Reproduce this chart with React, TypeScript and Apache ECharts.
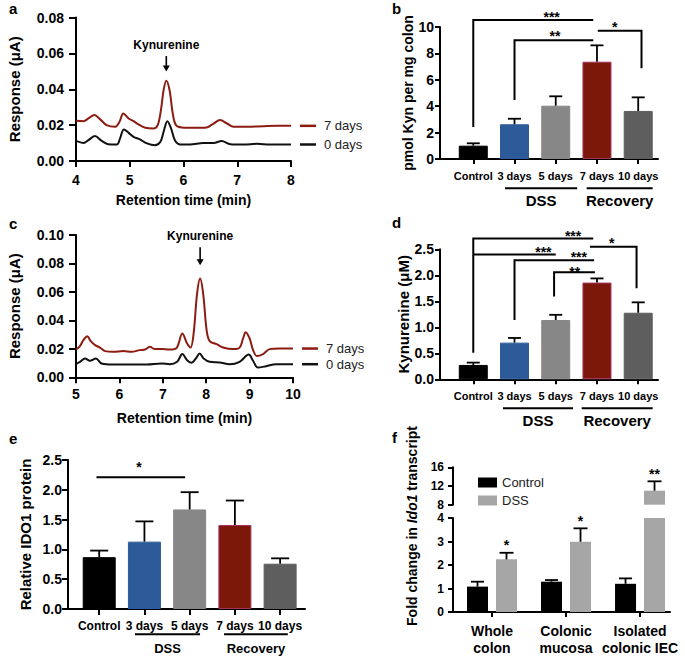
import React, { useEffect, useRef } from 'react';
import * as echarts from 'echarts';

const FONT = "'Liberation Sans', Arial, Helvetica, sans-serif";

// ---------- Panel a: chromatogram (retention time min, response uA) ----------
const chromA7Days: number[][] = [
  [4.0, 0.0224], [4.14, 0.0222], [4.23, 0.0237], [4.34, 0.0256], [4.45, 0.0232], [4.57, 0.02],
  [4.73, 0.0191], [4.81, 0.0219], [4.88, 0.0265], [4.98, 0.0237], [5.07, 0.0222], [5.16, 0.0204],
  [5.29, 0.0185], [5.44, 0.0181], [5.52, 0.02], [5.58, 0.0284], [5.63, 0.0396], [5.68, 0.0448],
  [5.74, 0.0396], [5.8, 0.0265], [5.86, 0.02], [5.97, 0.0187], [6.19, 0.0185], [6.43, 0.0187],
  [6.56, 0.0209], [6.68, 0.0228], [6.81, 0.0209], [6.93, 0.0191], [7.18, 0.0191], [7.49, 0.0194],
  [7.74, 0.0196], [8.0, 0.0196],
];
const chromA0Days: number[][] = [
  [4.0, 0.0112], [4.14, 0.0101], [4.23, 0.0116], [4.35, 0.0139], [4.48, 0.0112], [4.6, 0.0094],
  [4.76, 0.0092], [4.82, 0.0126], [4.89, 0.0176], [4.98, 0.0157], [5.07, 0.0135], [5.19, 0.012],
  [5.32, 0.0098], [5.47, 0.0088], [5.57, 0.0107], [5.63, 0.0163], [5.7, 0.0222], [5.77, 0.0181],
  [5.84, 0.0116], [5.94, 0.0092], [6.12, 0.0092], [6.37, 0.0101], [6.56, 0.0101], [6.71, 0.0111],
  [6.87, 0.0094], [7.12, 0.0092], [7.37, 0.0096], [7.61, 0.0092], [8.0, 0.0092],
];
// [time, arrow tip, arrow tail, label]
const kynArrowA = [5.68, 0.0499, 0.0585, 0.0645];

// ---------- Panel c: chromatogram ----------
const chromC7Days: number[][] = [
  [5.0, 0.0195], [5.09, 0.0219], [5.17, 0.0261], [5.26, 0.0289], [5.34, 0.0254], [5.44, 0.0226],
  [5.55, 0.0209], [5.67, 0.0184], [5.86, 0.0179], [6.09, 0.0184], [6.28, 0.0179], [6.47, 0.0191],
  [6.59, 0.0195], [6.7, 0.0214], [6.82, 0.0198], [6.97, 0.0198], [7.16, 0.0195], [7.32, 0.0207],
  [7.45, 0.0308], [7.56, 0.0237], [7.64, 0.0209], [7.71, 0.0308], [7.79, 0.0588], [7.86, 0.0694],
  [7.93, 0.0588], [8.01, 0.0331], [8.08, 0.0254], [8.24, 0.0233], [8.39, 0.0209], [8.62, 0.0198],
  [8.77, 0.0209], [8.85, 0.0273], [8.91, 0.0317], [9.0, 0.0273], [9.08, 0.0191], [9.17, 0.0149],
  [9.31, 0.0163], [9.46, 0.0198], [9.69, 0.0202], [10.0, 0.0202],
];
const chromC0Days: number[][] = [
  [5.0, 0.0092], [5.09, 0.0109], [5.21, 0.0132], [5.32, 0.0116], [5.46, 0.0132], [5.59, 0.0097],
  [5.86, 0.009], [6.24, 0.009], [6.63, 0.009], [6.97, 0.0097], [7.16, 0.0092], [7.33, 0.0109],
  [7.45, 0.0163], [7.56, 0.012], [7.66, 0.0102], [7.76, 0.0132], [7.85, 0.0167], [7.94, 0.0132],
  [8.08, 0.0109], [8.31, 0.0104], [8.54, 0.0092], [8.77, 0.0109], [8.98, 0.016], [9.08, 0.0116],
  [9.19, 0.0069], [9.38, 0.0078], [9.61, 0.0092], [10.0, 0.0092],
];
const kynArrowC = [7.86, 0.0788, 0.0914, 0.0995];

// ---------- Bar panels b, d, e ----------
const timeCategories = ['Control', '3 days', '5 days', '7 days', '10 days'];
const categoryColors = ['#000000', '#2d5a99', '#878787', '#7b180a', '#5e5e5e'];
const categoryBorders = ['#000000', '#2d5a99', '#878787', '#a3325c', '#5e5e5e'];
const groupNames = ['DSS', 'Recovery'];

const kynColonMean = [1.01, 2.63, 4.04, 7.37, 3.64];
const kynColonSem = [0.18, 0.42, 0.71, 1.24, 1.03];
const groupSpanB = [[0.77, 2.52], [2.75, 4.35]];
// [x1, x2, yLine, yLeftEnd, yRightEnd, labelX, labelY]  (-1 = no leg)
const bracketsB = [
  [0, 2.91, 10.53, 2.42, -1, 1.9, 10.73],
  [1, 2.91, 9.0, 4.47, -1, 1.98, 9.3],
  [3.02, 4.08, 9.72, -1, 6.87, 3.43, 9.98],
];
const bracketLabelsB = ['***', '**', '*'];

const kynSerumMean = [0.276, 0.705, 1.14, 1.86, 1.28];
const kynSerumSem = [0.045, 0.09, 0.1, 0.08, 0.2];
const groupSpanD = [[0.72, 2.42], [2.63, 4.35]];
const bracketsD = [
  [0, 2.91, 2.71, 0.51, -1, 2.42, 2.76],
  [0, 2.0, 2.4, -1, -1, 1.7, 2.44],
  [1, 2.93, 2.29, 1.14, -1, 2.56, 2.35],
  [1.96, 2.95, 2.06, 1.59, -1, 2.46, 2.07],
  [2.83, 3.96, 2.55, -1, 1.75, 3.36, 2.62],
];
const bracketLabelsD = ['***', '***', '***', '**', '*'];

const ido1Mean = [0.87, 1.13, 1.67, 1.41, 0.76];
const ido1Sem = [0.11, 0.34, 0.29, 0.41, 0.09];
const groupSpanE = [[0.79, 2.23], [2.76, 4.17]];
const bracketsE = [[-0.06, 1.9, 2.21, -1, -1, 0.88, 2.38]];
const bracketLabelsE = ['*'];

// ---------- Panel f ----------
const fGroups = ['Whole\ncolon', 'Colonic\nmucosa', 'Isolated\ncolonic IEC'];
const fControlMean = [1.08, 1.29, 1.2];
const fControlSem = [0.21, 0.07, 0.23];
const fDssMean = [2.24, 2.99, 11.0];
const fDssSem = [0.28, 0.57, 2.0];
const fDssStars = ['*', '*', '**'];

const BAR_F = 21;
const F_OFFSET = 14.5;

const bold = (size: number, extra: any = {}) => ({ color: '#000', fontSize: size, fontWeight: 'bold', fontFamily: FONT, ...extra });

function axis(o: any) {
  return {
    gridIndex: o.grid,
    type: 'value',
    show: o.show !== false,
    min: o.min,
    max: o.max,
    interval: o.interval,
    name: o.name,
    nameLocation: 'middle',
    nameGap: o.nameGap,
    nameTextStyle: bold(o.nameSize || 14),
    axisLine: { show: true, onZero: false, lineStyle: { color: '#000', width: 2 } },
    axisTick: { show: true, length: o.tickLen || 6, lineStyle: { color: '#000', width: 2 }, ...(o.custom ? { customValues: o.custom } : {}) },
    axisLabel: {
      ...bold(o.labelSize || 14, o.lineHeight ? { lineHeight: o.lineHeight } : {}),
      margin: o.margin,
      formatter: o.formatter,
      ...(o.custom ? { customValues: o.custom } : {}),
    },
    splitLine: { show: false },
  };
}

const lineSeries = (name: string, data: number[][], color: string, idx: number) => ({
  type: 'line', name, xAxisIndex: idx, yAxisIndex: idx, data, showSymbol: false, smooth: 0.35,
  lineStyle: { color, width: 2 }, itemStyle: { color }, silent: true,
  endLabel: {
    show: true, distance: 9, formatter: `{d|}{t|${name}}`,
    rich: {
      d: { width: 16, height: 2.5, backgroundColor: color },
      t: { fontSize: 13, color: '#222', padding: [0, 0, 0, 8], fontFamily: FONT },
    },
  },
});

const arrowSeries = (arrow: number[], idx: number) => ({
  type: 'custom', xAxisIndex: idx, yAxisIndex: idx, silent: true,
  data: [arrow],
  renderItem: (_p: any, api: any) => {
    const tip = api.coord([api.value(0), api.value(1)]);
    const tail = api.coord([api.value(0), api.value(2)]);
    const lab = api.coord([api.value(0), api.value(3)]);
    return {
      type: 'group', children: [
        { type: 'line', shape: { x1: tail[0], y1: tail[1], x2: tip[0], y2: tip[1] - 5 }, style: { stroke: '#000', lineWidth: 1.6 } },
        { type: 'polygon', shape: { points: [[tip[0] - 3.5, tip[1] - 6], [tip[0] + 3.5, tip[1] - 6], [tip[0], tip[1]]] }, style: { fill: '#000' } },
        { type: 'text', x: lab[0], y: lab[1], style: { text: 'Kynurenine', align: 'center', verticalAlign: 'middle', ...bold(12), fill: '#000' } },
      ],
    };
  },
});

const barSeries = (idx: number, mean: number[], width: number) => ({
  type: 'bar', name: 'panel' + idx, xAxisIndex: idx, yAxisIndex: idx, barWidth: width, silent: true,
  data: mean.map((v, i) => ({ value: [i, v], itemStyle: { color: categoryColors[i], borderColor: categoryBorders[i], borderWidth: 1 } })),
});

const errSeries = (idx: number, data: number[][], capW: number, dx: number, stars?: string[]) => ({
  type: 'custom', xAxisIndex: idx, yAxisIndex: idx, silent: true, z: 5,
  data,
  renderItem: (_p: any, api: any) => {
    const p0 = api.coord([api.value(0), api.value(1)]);
    const p1 = api.coord([api.value(0), api.value(2)]);
    const cx = p0[0] + dx;
    const children: any[] = [
      { type: 'line', shape: { x1: cx, y1: p0[1], x2: cx, y2: p1[1] }, style: { stroke: '#000', lineWidth: 1.8 } },
      { type: 'line', shape: { x1: cx - capW / 2, y1: p1[1], x2: cx + capW / 2, y2: p1[1] }, style: { stroke: '#000', lineWidth: 1.8 } },
    ];
    if (stars) {
      children.push({ type: 'text', x: cx, y: p1[1] - 2, style: { text: stars[api.value(3)], align: 'center', verticalAlign: 'bottom', ...bold(14), lineHeight: 11, fill: '#000' } });
    }
    return { type: 'group', children };
  },
});

const bracketSeries = (idx: number, brackets: number[][], labels: string[]) => ({
  type: 'custom', xAxisIndex: idx, yAxisIndex: idx, silent: true, z: 6,
  data: brackets,
  renderItem: (p: any, api: any) => {
    const x1 = api.value(0), x2 = api.value(1), y = api.value(2), yl = api.value(3), yr = api.value(4);
    const pts: number[][] = [];
    if (yl >= 0) pts.push(api.coord([x1, yl]));
    pts.push(api.coord([x1, y]));
    pts.push(api.coord([x2, y]));
    if (yr >= 0) pts.push(api.coord([x2, yr]));
    const lc = api.coord([api.value(5), api.value(6)]);
    return {
      type: 'group', children: [
        { type: 'polyline', shape: { points: pts }, style: { stroke: '#000', lineWidth: 2, fill: null } },
        { type: 'text', x: lc[0], y: lc[1], style: { text: labels[p.dataIndex], align: 'center', verticalAlign: 'middle', ...bold(14), lineHeight: 10, fill: '#000' } },
      ],
    };
  },
});

const groupSeries = (idx: number, spans: number[][], lineDy: number, textDy: number, size: number) => ({
  type: 'custom', xAxisIndex: idx, yAxisIndex: idx, silent: true,
  data: spans,
  renderItem: (p: any, api: any) => {
    const a = api.coord([api.value(0), 0]);
    const b = api.coord([api.value(1), 0]);
    return {
      type: 'group', children: [
        { type: 'line', shape: { x1: a[0], y1: a[1] + lineDy, x2: b[0], y2: b[1] + lineDy }, style: { stroke: '#000', lineWidth: 2 } },
        { type: 'text', x: (a[0] + b[0]) / 2, y: a[1] + textDy, style: { text: groupNames[p.dataIndex], align: 'center', verticalAlign: 'middle', ...bold(size), fill: '#000' } },
      ],
    };
  },
});

function buildOption() {
  const catFmt = (v: number) => timeCategories[Math.round(v)] ?? '';
  const fFmt = (v: number) => fGroups[Math.round(v)] ?? '';
  const grids = [
    { left: 76, top: 17.5, width: 215, height: 143.5 },
    { left: 76, top: 235, width: 217, height: 142.3 },
    { left: 440, top: 27, width: 218, height: 132 },
    { left: 440, top: 249.3, width: 218, height: 130 },
    { left: 68, top: 460, width: 237, height: 149 },
    { left: 453, top: 518, width: 217, height: 94 },
    { left: 453, top: 467.3, width: 217, height: 37.4 },
  ].map((g) => ({ ...g, containLabel: false, outerBoundsMode: 'none' }));

  const xAxis = [
    axis({ grid: 0, min: 4, max: 8, interval: 1, name: 'Retention time (min)', nameGap: 32, margin: 12, tickLen: 6 }),
    axis({ grid: 1, min: 5, max: 10, interval: 1, name: 'Retention time (min)', nameGap: 34, margin: 10, tickLen: 6 }),
    axis({ grid: 2, min: -0.807, max: 4.48, custom: [0, 1, 2, 3, 4], formatter: catFmt, labelSize: 11, margin: 11, tickLen: 5 }),
    axis({ grid: 3, min: -0.807, max: 4.48, custom: [0, 1, 2, 3, 4], formatter: catFmt, labelSize: 11, margin: 11, tickLen: 5 }),
    axis({ grid: 4, min: -0.69, max: 4.55, custom: [0, 1, 2, 3, 4], formatter: catFmt, labelSize: 12, margin: 11, tickLen: 6 }),
    axis({ grid: 5, min: -0.527, max: 2.405, custom: [0, 1, 2], formatter: fFmt, labelSize: 14, lineHeight: 17, margin: 10, tickLen: 5 }),
    axis({ grid: 6, min: -0.527, max: 2.405, show: false }),
  ];
  const yAxis = [
    axis({ grid: 0, min: 0, max: 0.08, interval: 0.02, name: 'Response (μA)', nameGap: 54, nameSize: 15, margin: 12, tickLen: 7, formatter: (v: number) => v.toFixed(2) }),
    axis({ grid: 1, min: 0, max: 0.1, interval: 0.02, name: 'Response (μA)', nameGap: 54, nameSize: 15, margin: 12, tickLen: 7, formatter: (v: number) => v.toFixed(2) }),
    axis({ grid: 2, min: 0, max: 10, interval: 2, name: 'pmol Kyn per mg colon', nameGap: 16, nameSize: 14, margin: 6, tickLen: 5 }),
    axis({ grid: 3, min: 0, max: 2.5, interval: 0.5, name: 'Kynurenine (μM)', nameGap: 27, nameSize: 15, margin: 6, tickLen: 5, formatter: (v: number) => v.toFixed(1) }),
    axis({ grid: 4, min: 0, max: 2.5, interval: 0.5, name: 'Relative IDO1 protein', nameGap: 35, nameSize: 15, margin: 6, tickLen: 6, formatter: (v: number) => v.toFixed(1) }),
    axis({ grid: 5, min: 0, max: 4, interval: 1, margin: 9, tickLen: 5, labelSize: 12 }),
    axis({ grid: 6, min: 8, max: 16, interval: 4, margin: 9, tickLen: 5, labelSize: 12 }),
  ];

  const fCtrlData = fControlMean.map((v, i) => [i, v]);
  const fDssData = fDssMean.map((v, i) => [i, v]);
  const fBar = (name: string, data: number[][], idx: number, color: string) => ({
    type: 'bar', name, xAxisIndex: idx, yAxisIndex: idx, data, barWidth: BAR_F, barGap: '38%', silent: true,
    itemStyle: { color }, clip: true,
  });
  const fCtrlErr = fControlMean.map((v, i) => [i, v, v + fControlSem[i], i]);
  const fDssErrAll = fDssMean.map((v, i) => [i, v, v + fDssSem[i], i]);

  const series: any[] = [
    lineSeries('7 days', chromA7Days, '#8c1c12', 0),
    lineSeries('0 days', chromA0Days, '#111111', 0),
    arrowSeries(kynArrowA, 0),
    lineSeries('7 days', chromC7Days, '#8c1c12', 1),
    lineSeries('0 days', chromC0Days, '#111111', 1),
    arrowSeries(kynArrowC, 1),

    barSeries(2, kynColonMean, 29),
    errSeries(2, kynColonMean.map((v, i) => [i, v, v + kynColonSem[i]]), 13, 0),
    bracketSeries(2, bracketsB, bracketLabelsB),
    groupSeries(2, groupSpanB, 29.3, 41, 15),

    barSeries(3, kynSerumMean, 29),
    errSeries(3, kynSerumMean.map((v, i) => [i, v, v + kynSerumSem[i]]), 13, 0),
    bracketSeries(3, bracketsD, bracketLabelsD),
    groupSeries(3, groupSpanD, 29, 41, 15),

    barSeries(4, ido1Mean, 33),
    errSeries(4, ido1Mean.map((v, i) => [i, v, v + ido1Sem[i]]), 18, 0),
    bracketSeries(4, bracketsE, bracketLabelsE),
    groupSeries(4, groupSpanE, 25.3, 39, 13),

    fBar('Control', fCtrlData, 5, '#000000'),
    fBar('DSS', fDssData, 5, '#a6a6a6'),
    fBar('Control', fCtrlData, 6, '#000000'),
    fBar('DSS', fDssData, 6, '#a6a6a6'),
    errSeries(5, fCtrlErr.filter((d) => d[2] <= 4), 13, -F_OFFSET),
    errSeries(5, fDssErrAll.filter((d) => d[2] <= 4), 14, F_OFFSET, fDssStars),
    errSeries(6, fDssErrAll.filter((d) => d[1] >= 8), 14, F_OFFSET, fDssStars),
  ];

  const letter = (t: string, x: number, y: number) => ({
    type: 'text', x, y, style: { text: t, ...bold(15), fill: '#000', verticalAlign: 'middle' },
  });

  return {
    animation: false,
    backgroundColor: '#ffffff',
    textStyle: { fontFamily: FONT },
    grid: grids,
    xAxis,
    yAxis,
    legend: {
      data: ['Control', 'DSS'], orient: 'vertical', left: 478, top: 476, padding: 0,
      itemWidth: 19, itemHeight: 10, itemGap: 5, icon: 'rect', selectedMode: false,
      textStyle: { fontSize: 13, color: '#222', fontFamily: FONT },
    },
    graphic: [
      letter('a', 9, 8),
      letter('b', 392, 8),
      letter('c', 9, 223),
      letter('d', 392, 222),
      letter('e', 9, 438),
      letter('f', 392, 437),
      {
        type: 'text', x: 412, y: 526, rotation: Math.PI / 2,
        style: {
          text: '{n|Fold change in }{i|Ido1}{n| transcript}',
          align: 'center', verticalAlign: 'middle', fill: '#000',
          rich: {
            n: bold(14),
            i: bold(14, { fontStyle: 'italic' }),
          },
        },
      },
    ],
    series,
  };
}

export default function App() {
  const ref = useRef<HTMLDivElement>(null);
  useEffect(() => {
    document.body.style.margin = '0';
    const chart = echarts.init(ref.current as HTMLDivElement, null, { renderer: 'svg' });
    chart.setOption(buildOption() as any);
    return () => chart.dispose();
  }, []);
  return <div ref={ref} style={{ position: 'absolute', left: 0, top: 0, width: 685, height: 657, background: '#fff' }} />;
}
